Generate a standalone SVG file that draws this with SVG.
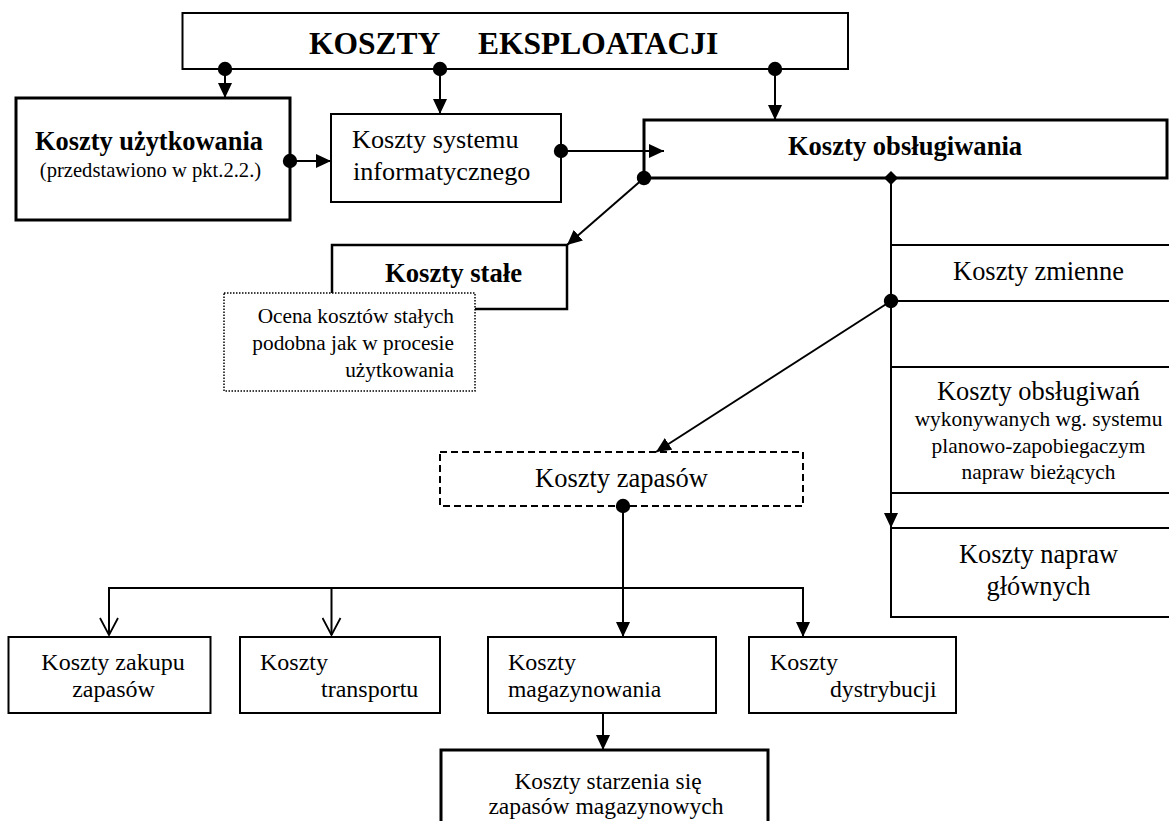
<svg xmlns="http://www.w3.org/2000/svg" width="1169" height="821" viewBox="0 0 1169 821">
<style>
text{font-family:"Liberation Serif","Times New Roman",serif;fill:#000}
.b{font-weight:bold}
.thin{fill:#fff;stroke:#000;stroke-width:2}
.thick{fill:#fff;stroke:#000;stroke-width:3}
.med{fill:#fff;stroke:#000;stroke-width:2.5}
.dash{fill:#fff;stroke:#000;stroke-width:2;stroke-dasharray:7 4}
.dot{fill:#fff;stroke:#000;stroke-width:1.5;stroke-dasharray:1.5 1.5}
.ln{fill:none;stroke:#000;stroke-width:2}
.c{fill:none;stroke:#000;stroke-width:2}
.m{text-anchor:middle}
.e{text-anchor:end}
</style>
<defs>
<marker id="arr" markerUnits="userSpaceOnUse" viewBox="0 0 15 14" refX="15" refY="7" markerWidth="15" markerHeight="14" orient="auto"><path d="M0,0 L15,7 L0,14 z" fill="#000"/></marker>
<marker id="open" markerUnits="userSpaceOnUse" viewBox="-1 -1 19 20" refX="17" refY="9" markerWidth="19" markerHeight="20" orient="auto"><path d="M0,0 L17,9 L0,18" fill="none" stroke="#000" stroke-width="1.8"/></marker>
<marker id="ball" markerUnits="userSpaceOnUse" viewBox="0 0 16 16" refX="8" refY="8" markerWidth="16" markerHeight="16" orient="auto"><circle cx="8" cy="8" r="7.2" fill="#000"/></marker>
<marker id="dia" markerUnits="userSpaceOnUse" viewBox="0 0 16 16" refX="8" refY="8" markerWidth="16" markerHeight="16" orient="auto"><path d="M1,8 L8,1 L15,8 L8,15 z" fill="#000"/></marker>
</defs>
<rect width="1169" height="821" fill="#fff"/>

<g id="koszty-eksploatacji">
<rect class="thin" x="182.5" y="13" width="665.5" height="56"/>
<text class="b" font-size="31.5" y="54"><tspan x="309">KOSZTY</tspan><tspan x="478">EKSPLOATACJI</tspan></text>
</g>

<g id="koszty-uzytkowania">
<rect class="thick" x="16" y="98" width="274" height="122"/>
<text class="b m" font-size="26.4" x="149" y="150">Koszty użytkowania</text>
<text class="m" font-size="20.6" x="150.5" y="177">(przedstawiono w pkt.2.2.)</text>
</g>

<g id="koszty-systemu">
<rect class="thin" x="331" y="114" width="230" height="88"/>
<text font-size="26.2" x="352" y="148">Koszty systemu</text>
<text font-size="26.2" x="353" y="180">informatycznego</text>
</g>

<g id="koszty-obslugiwania">
<rect class="thick" x="644" y="120" width="523" height="58"/>
<text class="b m" font-size="26.6" x="905" y="155">Koszty obsługiwania</text>
</g>

<g id="koszty-stale">
<rect class="med" x="332" y="245" width="235" height="64"/>
<text class="b m" font-size="26.7" x="453.5" y="282">Koszty stałe</text>
</g>

<g id="ocena-kosztow">
<rect class="dot" x="224" y="293" width="251" height="98"/>
<text class="e" font-size="21.3" x="454" y="323">Ocena kosztów stałych</text>
<text class="e" font-size="21.3" x="454" y="350">podobna jak w procesie</text>
<text class="e" font-size="21.3" x="454" y="377">użytkowania</text>
</g>

<g id="koszty-zmienne">
<path class="ln" d="M891,245 H1169 M891,301 H1169"/>
<text class="m" font-size="26.4" x="1038.5" y="280">Koszty zmienne</text>
</g>

<g id="koszty-obslugiwan">
<path class="ln" d="M891,367 H1169 M891,493 H1169"/>
<text class="m" font-size="26.4" x="1038.5" y="400">Koszty obsługiwań</text>
<text class="m" font-size="21.4" x="1038.5" y="426">wykonywanych wg. systemu</text>
<text class="m" font-size="21.4" x="1038.5" y="453">planowo-zapobiegaczym</text>
<text class="m" font-size="21.4" x="1038.5" y="479">napraw bieżących</text>
</g>

<g id="koszty-napraw-glownych">
<path class="ln" d="M1169,528 H891 V617 H1169"/>
<text class="m" font-size="26.4" x="1038.5" y="563">Koszty napraw</text>
<text class="m" font-size="26.4" x="1038.5" y="595">głównych</text>
</g>

<g id="koszty-zapasow">
<rect class="dash" x="440" y="452" width="363" height="54"/>
<text class="m" font-size="26.5" x="621.5" y="487">Koszty zapasów</text>
</g>

<g id="koszty-zakupu">
<rect class="thin" x="8.5" y="637" width="202" height="76"/>
<text class="m" font-size="24" x="113" y="670">Koszty zakupu</text>
<text class="m" font-size="24" x="113.5" y="697">zapasów</text>
</g>

<g id="koszty-transportu">
<rect class="thin" x="240" y="637" width="200" height="76"/>
<text font-size="24" x="260" y="670">Koszty</text>
<text font-size="24" x="321" y="697">transportu</text>
</g>

<g id="koszty-magazynowania">
<rect class="thin" x="488" y="637" width="228" height="76"/>
<text font-size="24" x="508" y="670">Koszty</text>
<text font-size="23.6" x="508" y="697">magazynowania</text>
</g>

<g id="koszty-dystrybucji">
<rect class="thin" x="749" y="637" width="207" height="76"/>
<text font-size="24" x="770" y="670">Koszty</text>
<text font-size="23.7" x="830" y="697">dystrybucji</text>
</g>

<g id="koszty-starzenia">
<rect class="thick" x="441" y="750" width="327" height="90"/>
<text class="m" font-size="23.4" x="608" y="789">Koszty starzenia się</text>
<text class="m" font-size="23.6" x="606" y="814">zapasów magazynowych</text>
</g>

<g id="connectors">
<path class="c" d="M225,69 V98" marker-start="url(#ball)" marker-end="url(#arr)"/>
<path class="c" d="M440,69 V114" marker-start="url(#ball)" marker-end="url(#arr)"/>
<path class="c" d="M775,69 V120" marker-start="url(#ball)" marker-end="url(#arr)"/>
<path class="c" d="M290,161 H331" marker-start="url(#ball)" marker-end="url(#arr)"/>
<path class="c" d="M561,151 H664" marker-start="url(#ball)" marker-end="url(#arr)"/>
<path class="c" d="M644,178 L567,245" marker-start="url(#ball)" marker-end="url(#arr)"/>
<path class="c" d="M891,178 V528" marker-start="url(#dia)" marker-end="url(#arr)"/>
<path class="c" d="M891,301 L656,452" marker-start="url(#ball)" marker-end="url(#arr)"/>
<path class="c" d="M623,506 V637" marker-start="url(#ball)" marker-end="url(#arr)"/>
<path class="c" d="M109,588 H803"/>
<path class="c" d="M109,587 V635" marker-end="url(#open)"/>
<path class="c" d="M331.5,588 V635" marker-end="url(#open)"/>
<path class="c" d="M803,587 V637" marker-end="url(#arr)"/>
<path class="c" d="M603,713 V750" marker-end="url(#arr)"/>
</g>
</svg>
